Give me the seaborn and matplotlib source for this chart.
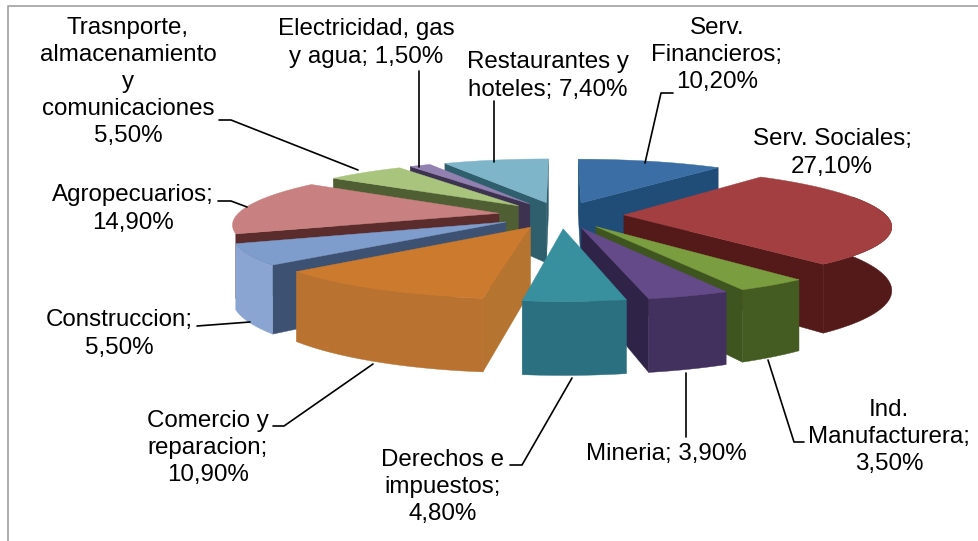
import numpy as np
import matplotlib
matplotlib.use("Agg")
import matplotlib.pyplot as plt
import seaborn as sns

# data, clockwise from 12 o'clock
sectors = ["Serv. Financieros", "Serv. Sociales", "Ind. Manufacturera", "Mineria",
           "Derechos e impuestos", "Comercio y reparacion", "Construccion", "Agropecuarios",
           "Trasnporte, almacenamiento y comunicaciones", "Electricidad, gas y agua",
           "Restaurantes y hoteles"]
shares = [10.2, 27.1, 3.5, 3.9, 4.8, 10.9, 5.5, 14.9, 5.5, 1.5, 7.4]

top_colors = ["#3a6ea5", "#a33f40", "#7a9e3f", "#654a8a", "#38909f", "#cc7a2e",
              "#7f9dcc", "#c98080", "#a9c47d", "#9280b0", "#7fb5c9"]
outer_colors = ["#1f4d78", "#541a1a", "#445c22", "#42305e", "#2a7080", "#b9722f",
                "#8aa5d2", "#8f5a5a", "#7a8f58", "#6a5c80", "#5a8a98"]
cut_colors = ["#1f4d78", "#541a1a", "#3f5520", "#2f2448", "#2a7080", "#b5742f",
              "#3d5272", "#5a2c2c", "#4f5f33", "#3d3350", "#2f5f6c"]

labels = ["Serv.\nFinancieros;\n10,20%", "Serv. Sociales;\n27,10%", "Ind.\nManufacturera;\n3,50%",
          "Mineria; 3,90%", "Derechos e\nimpuestos;\n4,80%", "Comercio y\nreparacion;\n10,90%",
          "Construccion;\n5,50%", "Agropecuarios;\n14,90%",
          "Trasnporte,\nalmacenamiento\ny\ncomunicaciones\n5,50%",
          "Electricidad, gas\ny agua; 1,50%", "Restaurantes y\nhoteles; 7,40%"]
label_pos = [(717, 55), (832, 153), (889, 437), (666, 454), (443, 487), (208, 448),
             (119, 334), (133, 209), (128, 82), (366, 43), (548, 76)]
leaders = [[(673, 93), (661, 93), (645, 163)], None, [(804, 442), (794, 442), (768, 360)],
           [(686, 437), (686, 373)], [(510, 465), (522, 465), (572, 378)],
           [(273, 426), (284, 426), (373, 364)], [(197, 326), (250, 322)],
           [(218, 201), (231, 201), (247, 207)], [(219, 120), (231, 120), (358, 170)],
           [(419, 71), (419, 167)], [(494, 101), (494, 162)]]

# projection of the pie plane
cx, cy = 561, 215
radius = 262
tilt = 55
persp = 0.17
thick = 62
explode = 0.24


def project(x, y, drop=False):
    w = 1 / (1 + persp * y)
    return cx + radius * x * w, cy - tilt * y * w + (thick * w ** 0.75 if drop else 0)


def area(pts):
    a = np.array(pts)
    return 0.5 * np.sum(a[:, 0] * np.roll(a[:, 1], -1) - np.roll(a[:, 0], -1) * a[:, 1])


sns.set_style("white")
plt.rcParams["font.family"] = ["Liberation Sans", "DejaVu Sans"]

fig, ax = plt.subplots(figsize=(9.79, 5.41), dpi=100)
ax.set_position([0, 0, 1, 1])
ax.set_xlim(0, 979)
ax.set_ylim(541, 0)
ax.axis("off")

# chart border (only top and left are in the crop)
ax.plot([8, 8, 979], [541, 5.5, 5.5], color="#a0a0a0", lw=1.2, zorder=1)

edges = np.concatenate([[0], np.cumsum(shares)]) / np.sum(shares) * 2 * np.pi
mids = (edges[:-1] + edges[1:]) / 2
tip_x = explode * np.sin(mids)
tip_y = explode * np.cos(mids)

# back slices first
z = 2
for i in np.argsort(-tip_y):
    th = np.linspace(edges[i], edges[i + 1], 80)
    ax_x = tip_x[i] + np.sin(th)
    ax_y = tip_y[i] + np.cos(th)
    rim_top = [project(a, b) for a, b in zip(ax_x, ax_y)]
    rim_bot = [project(a, b, True) for a, b in zip(ax_x, ax_y)]
    tip_top = project(tip_x[i], tip_y[i])
    tip_bot = project(tip_x[i], tip_y[i], True)

    # cut walls, only those that face the viewer
    quad_a = [tip_top, rim_top[0], rim_bot[0], tip_bot]
    quad_b = [tip_top, tip_bot, rim_bot[-1], rim_top[-1]]
    for quad in (quad_a, quad_b):
        if area(quad) < 0:
            ax.fill(*zip(*quad), color=cut_colors[i], lw=0.3, zorder=z)
    z += 1

    # outer wall, front slices only
    front = np.where(np.cos(th) < 0.35)[0]
    if len(front) > 1 and tip_y[i] < 0.01:
        poly = [rim_top[k] for k in front] + [rim_bot[k] for k in front[::-1]]
        ax.fill(*zip(*poly), color=outer_colors[i], lw=0.3, zorder=z)
    z += 1

    ax.fill(*zip(*([tip_top] + rim_top)), color=top_colors[i], lw=0.3, zorder=z)
    z += 1

for txt, pos, line in zip(labels, label_pos, leaders):
    ax.text(pos[0], pos[1], txt, ha="center", va="center", fontsize=17.4,
            color="black", linespacing=1.3, zorder=z + 1)
    if line:
        ax.plot(*zip(*line), color="black", lw=1.2, zorder=z)

fig.savefig("out.png", dpi=100)
